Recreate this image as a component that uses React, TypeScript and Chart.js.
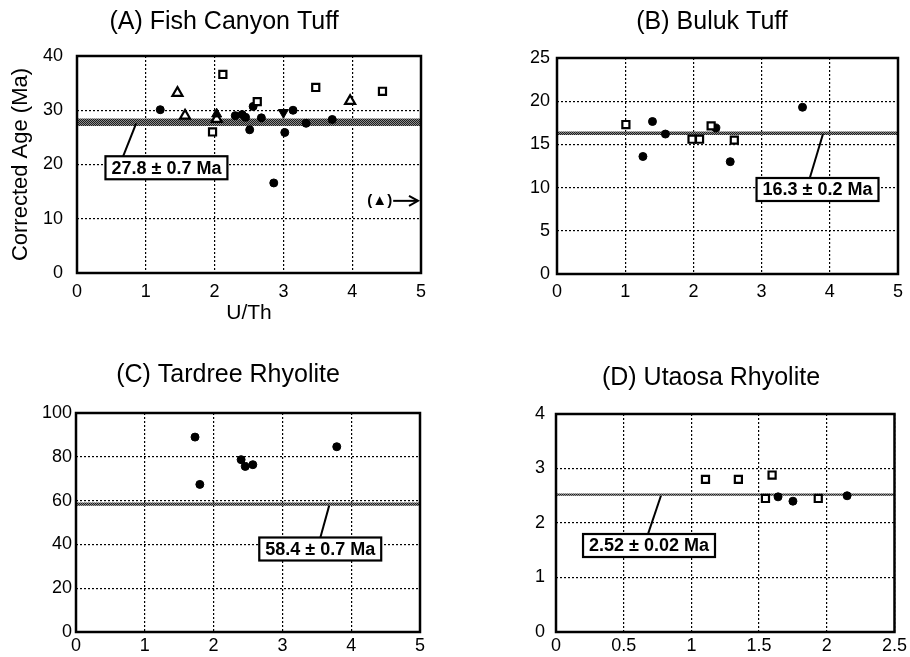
import React, { useEffect, useRef } from 'react';
import { Chart, registerables } from 'chart.js';

Chart.register(...registerables);

const FONT = '"Liberation Sans", Arial, Helvetica, sans-serif';
Chart.defaults.font.family = FONT;
Chart.defaults.color = '#000';

type Pt = { x: number; y: number };

// ---------- Shared text ----------
const X_TITLE = 'U/Th';
const Y_TITLE = 'Corrected Age (Ma)';

// ---------- (A) Fish Canyon Tuff ----------
const A_TITLE = '(A) Fish Canyon Tuff';
const A_CIRCLES: Pt[] = [
  { x: 1.21, y: 30.1 }, { x: 2.56, y: 30.7 }, { x: 2.30, y: 29.0 }, { x: 2.40, y: 29.2 },
  { x: 2.45, y: 28.7 }, { x: 2.51, y: 26.4 }, { x: 2.68, y: 28.6 }, { x: 2.86, y: 16.6 },
  { x: 3.02, y: 25.9 }, { x: 3.14, y: 30.0 }, { x: 3.33, y: 27.6 }, { x: 3.71, y: 28.3 },
];
const A_SQUARES: Pt[] = [
  { x: 2.12, y: 36.6 }, { x: 2.62, y: 31.6 }, { x: 1.97, y: 26.0 }, { x: 3.47, y: 34.2 }, { x: 4.44, y: 33.5 },
];
const A_OPEN_TRI: Pt[] = [
  { x: 1.46, y: 33.2 }, { x: 1.57, y: 29.0 }, { x: 2.03, y: 28.4 }, { x: 3.97, y: 31.7 },
];
const A_FILLED_TRI: Pt[] = [{ x: 2.03, y: 29.3 }, { x: 3.0, y: 29.6 }];
const A_FILLED_TRI_ROT = [0, 180];
const A_MEAN = 27.8;
const A_ERR = 0.7;
const A_LABEL = '27.8 ± 0.7 Ma';
const A_OFFSCALE = '(▲)';

// ---------- (B) Buluk Tuff ----------
const B_TITLE = '(B) Buluk Tuff';
const B_CIRCLES: Pt[] = [
  { x: 1.40, y: 17.65 }, { x: 1.26, y: 13.6 }, { x: 1.59, y: 16.2 },
  { x: 2.33, y: 16.9 }, { x: 2.54, y: 13.0 }, { x: 3.60, y: 19.3 },
];
const B_SQUARES: Pt[] = [
  { x: 1.01, y: 17.3 }, { x: 1.98, y: 15.6 }, { x: 2.09, y: 15.6 }, { x: 2.26, y: 17.15 }, { x: 2.60, y: 15.5 },
];
const B_MEAN = 16.3;
const B_ERR = 0.2;
const B_LABEL = '16.3 ± 0.2 Ma';

// ---------- (C) Tardree Rhyolite ----------
const C_TITLE = '(C) Tardree Rhyolite';
const C_CIRCLES: Pt[] = [
  { x: 1.73, y: 89.0 }, { x: 1.80, y: 67.4 }, { x: 2.40, y: 78.7 },
  { x: 2.46, y: 75.6 }, { x: 2.57, y: 76.4 }, { x: 3.79, y: 84.6 },
];
const C_MEAN = 58.4;
const C_ERR = 0.7;
const C_LABEL = '58.4 ± 0.7 Ma';

// ---------- (D) Utaosa Rhyolite ----------
const D_TITLE = '(D) Utaosa Rhyolite';
const D_SQUARES: Pt[] = [
  { x: 1.104, y: 2.80 }, { x: 1.347, y: 2.80 }, { x: 1.596, y: 2.88 }, { x: 1.547, y: 2.45 }, { x: 1.937, y: 2.45 },
];
const D_CIRCLES: Pt[] = [{ x: 1.64, y: 2.48 }, { x: 1.75, y: 2.40 }, { x: 2.15, y: 2.50 }];
const D_MEAN = 2.52;
const D_ERR = 0.02;
const D_LABEL = '2.52 ± 0.02 Ma';

// ---------- styling / layout ----------
const TITLE_SIZE = 25;
const TICK_SIZE = 18;
const AXIS_TITLE_SIZE = 22;
const LABEL_FONT = `bold 18px ${FONT}`;

interface PanelSpec {
  title: string;
  xMax: number; xStep: number;
  yMax: number; yStep: number;
  mean: number; err: number;
  datasets: any[];
  label: { text: string; x: number; y: number; lx1: number; ly1: number; lx2: number; ly2: number };
  offscale?: { text: string; x: number; y: number };
  xTitle?: string; yTitle?: string;
  box: { left: number; top: number; width: number; height: number };
  padL: number; padR: number; yAxisW: number; xAxisH: number;
  titlePadTop: number; titlePadBottom: number;
  yTickPad: number; xTickPad: number;
}

const circles = (data: Pt[]) => ({
  type: 'scatter', data, pointStyle: 'circle', pointRadius: 4,
  backgroundColor: '#000', borderColor: '#000', borderWidth: 1, order: 1,
});
const squares = (data: Pt[]) => ({
  type: 'scatter', data, pointStyle: 'rect', pointRadius: 5,
  backgroundColor: '#fff', borderColor: '#000', borderWidth: 2.2, order: 1,
});
const openTri = (data: Pt[]) => ({
  type: 'scatter', data, pointStyle: 'triangle', pointRadius: 5.8,
  backgroundColor: '#fff', borderColor: '#000', borderWidth: 2.2, order: 1,
});
const filledTri = (data: Pt[], rot: number[]) => ({
  type: 'scatter', data, pointStyle: 'triangle', pointRadius: 5.8, pointRotation: rot,
  backgroundColor: '#000', borderColor: '#000', borderWidth: 1, order: 0,
});

const PANELS: PanelSpec[] = [
  {
    title: A_TITLE, xMax: 5, xStep: 1, yMax: 40, yStep: 10, mean: A_MEAN, err: A_ERR,
    datasets: [openTri(A_OPEN_TRI), squares(A_SQUARES), circles(A_CIRCLES), filledTri(A_FILLED_TRI, A_FILLED_TRI_ROT)],
    label: { text: A_LABEL, x: 1.30, y: 19.4, lx1: 0.86, ly1: 27.6, lx2: 0.67, ly2: 21.5 },
    offscale: { text: A_OFFSCALE, x: 4.22, y: 13.3 },
    xTitle: X_TITLE, yTitle: Y_TITLE,
    box: { left: 0, top: 0, width: 450, height: 330 },
    padL: 27, padR: 29, yAxisW: 50, xAxisH: 57, titlePadTop: 7.5, titlePadBottom: 18.5,
    yTickPad: 14, xTickPad: 8,
  },
  {
    title: B_TITLE, xMax: 5, xStep: 1, yMax: 25, yStep: 5, mean: B_MEAN, err: B_ERR,
    datasets: [squares(B_SQUARES), circles(B_CIRCLES)],
    label: { text: B_LABEL, x: 3.82, y: 9.78, lx1: 3.90, ly1: 16.2, lx2: 3.71, ly2: 11.2 },
    box: { left: 460, top: 0, width: 450, height: 300 },
    padL: 66, padR: 12, yAxisW: 31, xAxisH: 26, titlePadTop: 7.5, titlePadBottom: 20.5,
    yTickPad: 7, xTickPad: 7,
  },
  {
    title: C_TITLE, xMax: 5, xStep: 1, yMax: 100, yStep: 20, mean: C_MEAN, err: C_ERR,
    datasets: [circles(C_CIRCLES)],
    label: { text: C_LABEL, x: 3.55, y: 37.9, lx1: 3.68, ly1: 57.7, lx2: 3.55, ly2: 42.9 },
    box: { left: 0, top: 340, width: 450, height: 317 },
    padL: 36, padR: 30, yAxisW: 40, xAxisH: 25, titlePadTop: 20, titlePadBottom: 23,
    yTickPad: 4, xTickPad: 3,
  },
  {
    title: D_TITLE, xMax: 2.5, xStep: 0.5, yMax: 4, yStep: 1, mean: D_MEAN, err: D_ERR,
    datasets: [squares(D_SQUARES), circles(D_CIRCLES)],
    label: { text: D_LABEL, x: 0.687, y: 1.587, lx1: 0.775, ly1: 2.50, lx2: 0.68, ly2: 1.80 },
    box: { left: 460, top: 340, width: 450, height: 317 },
    padL: 64, padR: 12, yAxisW: 32, xAxisH: 25, titlePadTop: 23, titlePadBottom: 21,
    yTickPad: 11, xTickPad: 3,
  },
];

function makePattern(): CanvasPattern | string {
  const c = document.createElement('canvas');
  c.width = 2; c.height = 2;
  const g = c.getContext('2d');
  if (!g) return '#606060';
  g.fillStyle = '#8c8c8c';
  g.fillRect(0, 0, 2, 2);
  g.fillStyle = '#1e1e1e';
  g.fillRect(0, 0, 1, 1);
  g.fillRect(1, 1, 1, 1);
  return g.createPattern(c, 'repeat') || '#606060';
}

function overlayPlugin(spec: PanelSpec) {
  return {
    id: 'overlay',
    afterDraw(chart: any) {
      const { ctx, chartArea } = chart;
      const xs = chart.scales.x;
      const ys = chart.scales.y;
      ctx.save();
      // frame
      ctx.strokeStyle = '#000';
      ctx.lineWidth = 2.5;
      ctx.setLineDash([]);
      ctx.strokeRect(chartArea.left, chartArea.top, chartArea.right - chartArea.left, chartArea.bottom - chartArea.top);

      // leader line + label box
      const a = spec.label;
      ctx.lineWidth = 2;
      ctx.beginPath();
      ctx.moveTo(xs.getPixelForValue(a.lx1), ys.getPixelForValue(a.ly1));
      ctx.lineTo(xs.getPixelForValue(a.lx2), ys.getPixelForValue(a.ly2));
      ctx.stroke();
      ctx.font = LABEL_FONT;
      const w = ctx.measureText(a.text).width + 12;
      const h = 23;
      const cx = xs.getPixelForValue(a.x);
      const cy = ys.getPixelForValue(a.y);
      ctx.fillStyle = '#fff';
      ctx.fillRect(cx - w / 2, cy - h / 2, w, h);
      ctx.lineWidth = 2.2;
      ctx.strokeRect(cx - w / 2, cy - h / 2, w, h);
      ctx.fillStyle = '#000';
      ctx.textAlign = 'center';
      ctx.textBaseline = 'middle';
      ctx.fillText(a.text, cx, cy + 1);

      // off-scale marker
      if (spec.offscale) {
        const o = spec.offscale;
        const ox = xs.getPixelForValue(o.x);
        const oy = ys.getPixelForValue(o.y);
        ctx.font = `bold 15px ${FONT}`;
        ctx.textAlign = 'left';
        ctx.fillText(o.text, ox, oy);
        const tw = ctx.measureText(o.text).width;
        const endX = chartArea.right - 3;
        ctx.lineWidth = 2;
        ctx.beginPath();
        ctx.moveTo(ox + tw + 1, oy);
        ctx.lineTo(endX, oy);
        ctx.stroke();
        ctx.beginPath();
        ctx.moveTo(endX - 9, oy - 5);
        ctx.lineTo(endX, oy);
        ctx.lineTo(endX - 9, oy + 5);
        ctx.stroke();
      }
      ctx.restore();
    },
  };
}

const tickLabel = (v: number | string) => String(Number(v));

function buildConfig(spec: PanelSpec): any {
  const band = {
    type: 'line',
    data: [{ x: 0, y: spec.mean + spec.err }, { x: spec.xMax, y: spec.mean + spec.err }],
    showLine: true,
    borderWidth: 0,
    borderColor: 'rgba(0,0,0,0)',
    pointRadius: 0,
    fill: { value: spec.mean - spec.err },
    backgroundColor: makePattern(),
    order: 5,
  };
  const grid = { color: '#000', lineWidth: 1.2, drawTicks: false };
  const border = { display: false, dash: [2, 2] };
  return {
    type: 'scatter',
    data: { datasets: [band, ...spec.datasets] },
    options: {
      responsive: false,
      maintainAspectRatio: false,
      animation: false,
      devicePixelRatio: 1,
      layout: { padding: { left: spec.padL, right: spec.padR, top: 0, bottom: 0 } },
      plugins: {
        legend: { display: false },
        tooltip: { enabled: false },
        title: {
          display: true,
          text: spec.title,
          color: '#000',
          font: { size: TITLE_SIZE, weight: 'normal', family: FONT },
          padding: { top: spec.titlePadTop, bottom: spec.titlePadBottom },
        },
      },
      scales: {
        x: {
          type: 'linear', min: 0, max: spec.xMax,
          ticks: { stepSize: spec.xStep, padding: spec.xTickPad, font: { size: TICK_SIZE }, color: '#000', callback: tickLabel },
          grid, border,
          title: spec.xTitle
            ? { display: true, text: spec.xTitle, color: '#000', font: { size: 21 }, padding: { top: 0, bottom: 4 } }
            : { display: false },
          afterFit: (s: any) => { s.height = spec.xAxisH; },
        },
        y: {
          type: 'linear', min: 0, max: spec.yMax,
          ticks: { stepSize: spec.yStep, padding: spec.yTickPad, font: { size: TICK_SIZE }, color: '#000', callback: tickLabel },
          grid, border,
          title: spec.yTitle
            ? { display: true, text: spec.yTitle, color: '#000', font: { size: AXIS_TITLE_SIZE }, padding: { top: -19, bottom: 0 } }
            : { display: false },
          afterFit: (s: any) => { s.width = spec.yAxisW; },
        },
      },
    },
    plugins: [overlayPlugin(spec)],
  };
}

function Panel({ spec }: { spec: PanelSpec }) {
  const ref = useRef<HTMLCanvasElement>(null);
  useEffect(() => {
    if (!ref.current) return;
    const chart = new Chart(ref.current, buildConfig(spec));
    return () => chart.destroy();
  }, [spec]);
  const b = spec.box;
  return (
    <canvas
      ref={ref}
      width={b.width}
      height={b.height}
      style={{ position: 'absolute', left: b.left, top: b.top, width: b.width, height: b.height }}
    />
  );
}

export default function App() {
  return (
    <div style={{ position: 'absolute', left: 0, top: 0, width: 910, height: 657, background: '#fff', overflow: 'hidden' }}>
      {PANELS.map((p, i) => (
        <Panel key={i} spec={p} />
      ))}
    </div>
  );
}
